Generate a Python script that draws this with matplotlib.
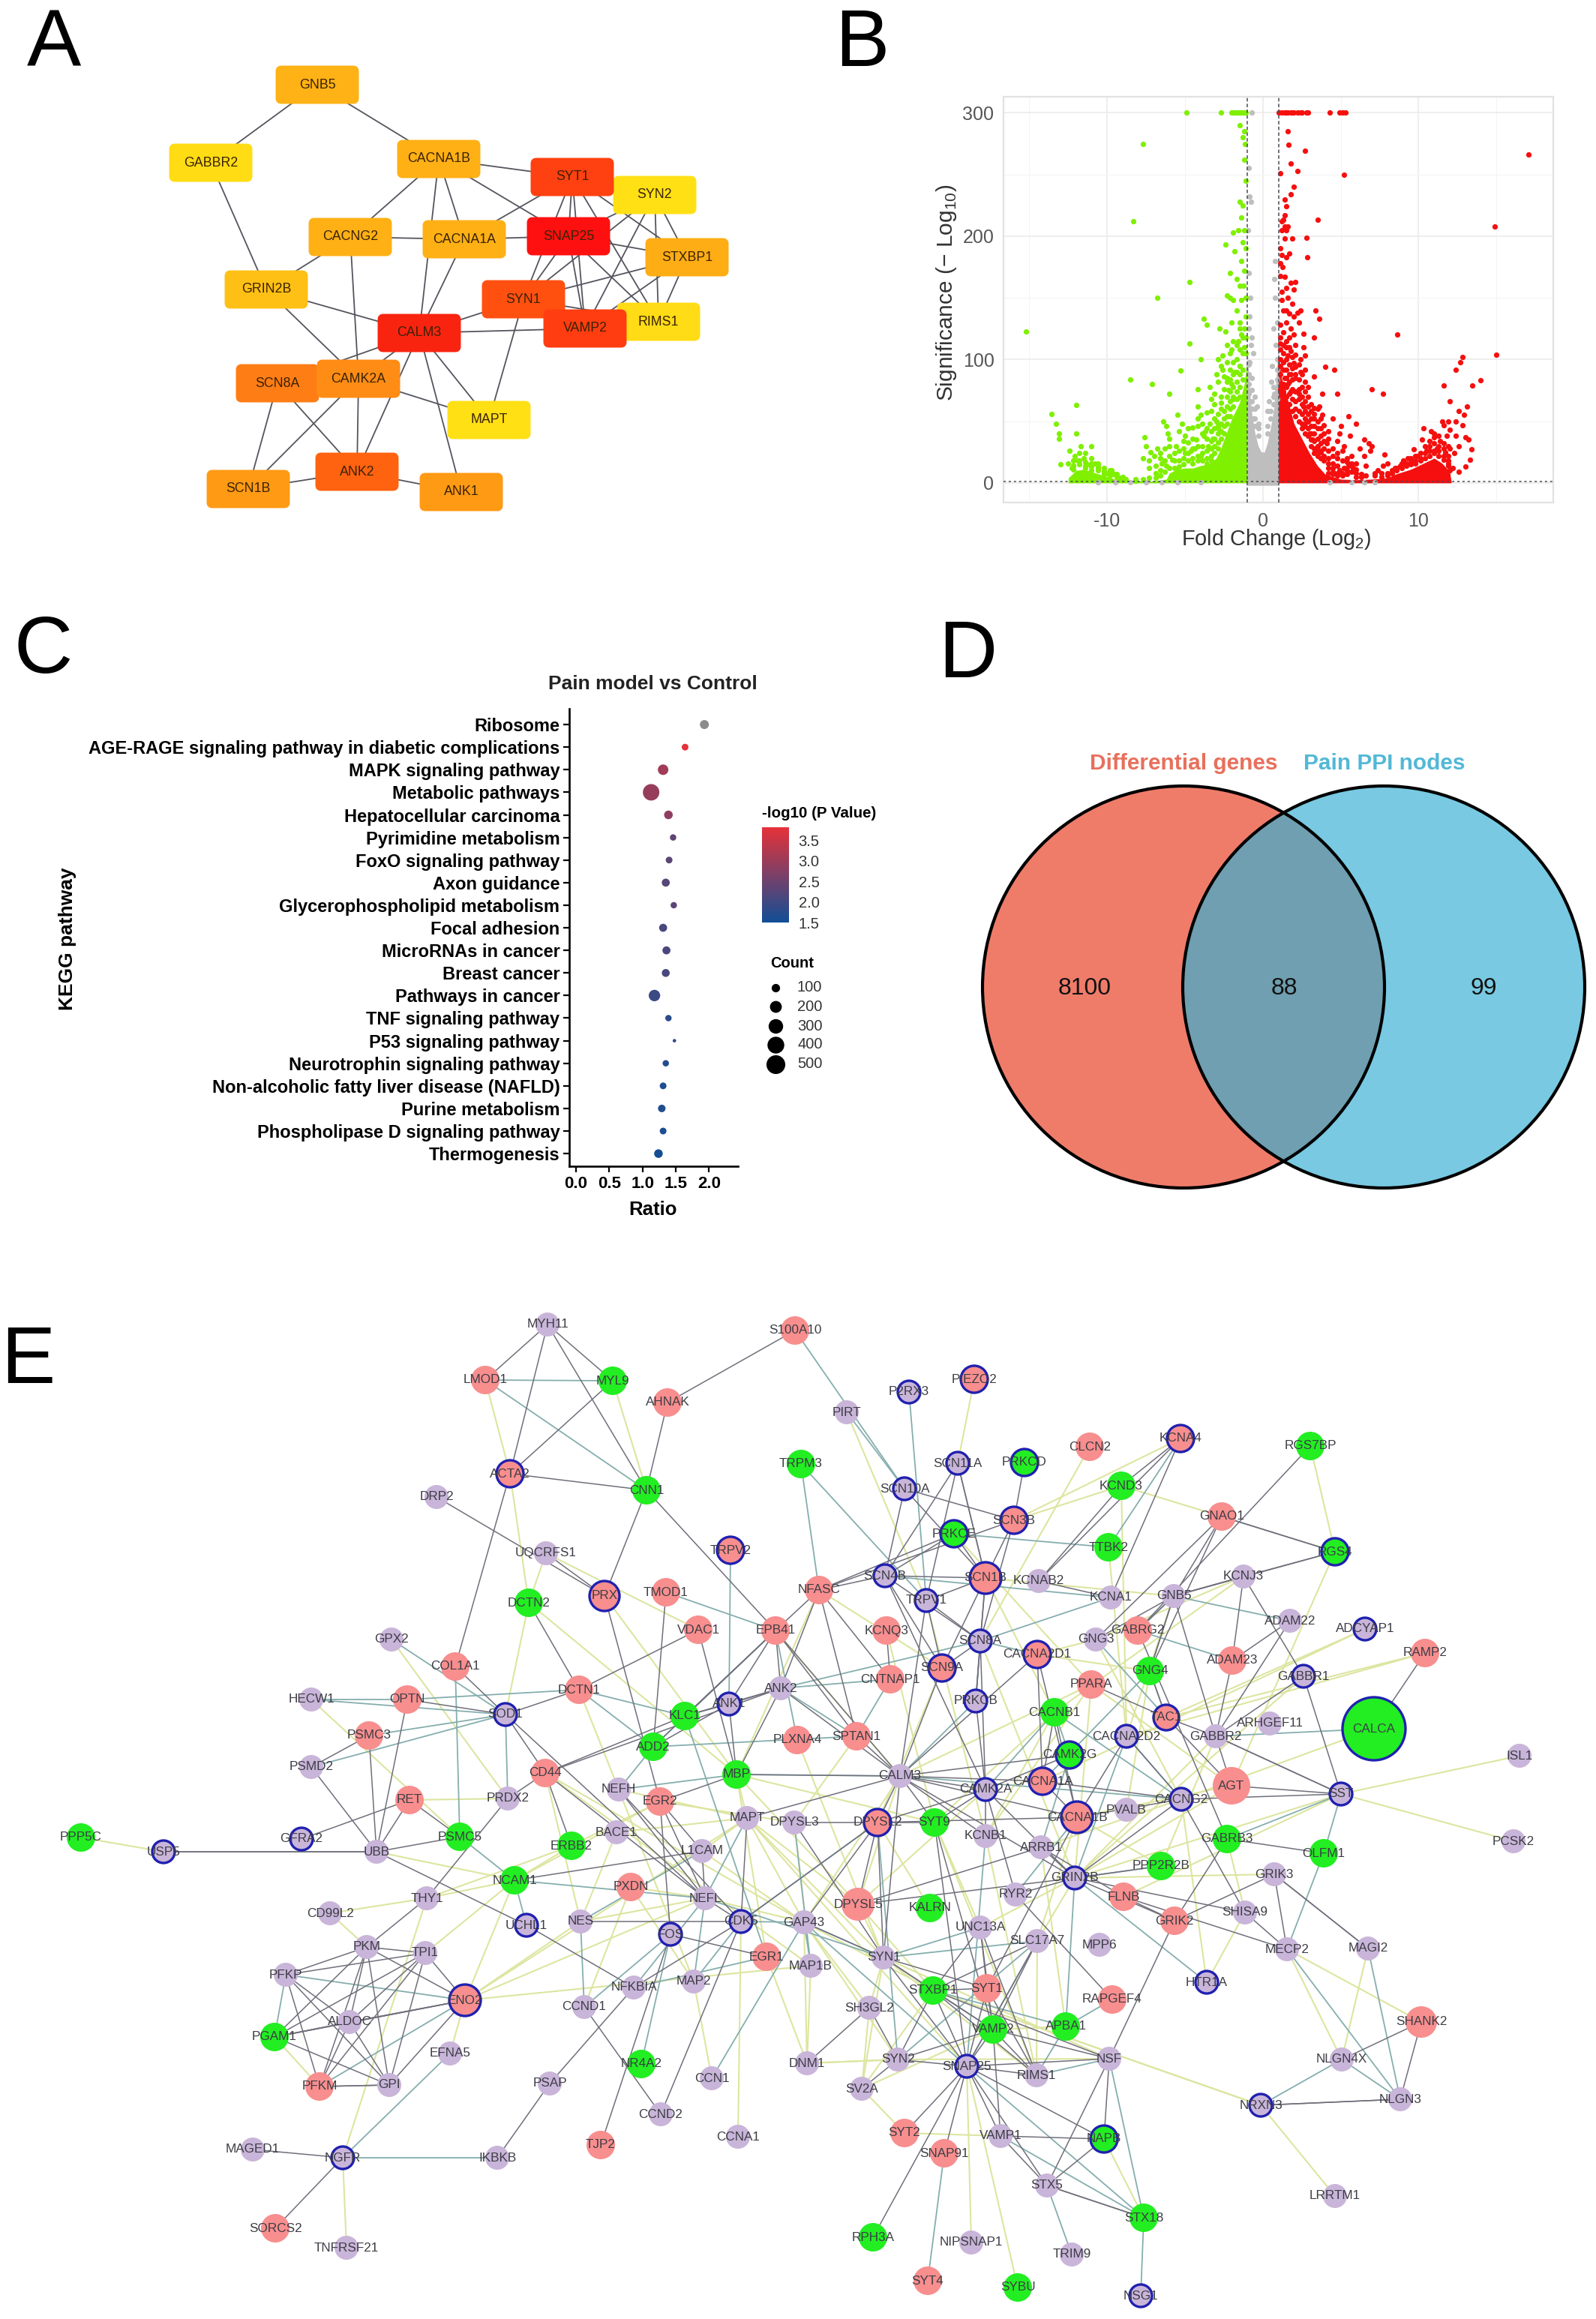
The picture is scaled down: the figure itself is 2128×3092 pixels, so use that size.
import matplotlib
matplotlib.use("Agg")
import matplotlib.pyplot as plt
import numpy as np
from matplotlib.collections import LineCollection
from matplotlib.colors import LinearSegmentedColormap
from matplotlib.patches import Circle, FancyBboxPatch

plt.rcParams['font.family'] = ['Liberation Sans', 'DejaVu Sans']
plt.rcParams['mathtext.fontset'] = 'custom'
plt.rcParams['mathtext.rm'] = 'Liberation Sans'
plt.rcParams['axes.unicode_minus'] = False

W, H = 2128, 3092

# ---- panel A: hub genes (layout, in pixels)
a_nodes = {
    "GNB5": (423, 113, "#FFB215"), "GABBR2": (281, 217, "#FFDC14"), "CACNA1B": (585, 212, "#FFB015"),
    "SYN2": (873, 260, "#FFE015"), "SYT1": (763, 236, "#FF4010"), "CACNG2": (467, 316, "#FFB015"),
    "CACNA1A": (619, 319, "#FFB015"), "SNAP25": (758, 315, "#FF1010"), "STXBP1": (916, 343, "#FFAD15"),
    "GRIN2B": (355, 386, "#FFC015"), "RIMS1": (878, 429, "#FFDC15"), "SYN1": (698, 399, "#FF5010"),
    "VAMP2": (780, 438, "#FF3D10"), "CALM3": (559, 444, "#F92410"), "SCN8A": (370, 511, "#FF7D15"),
    "CAMK2A": (478, 505, "#FF8C15"), "MAPT": (652, 560, "#FFE015"), "SCN1B": (331, 652, "#FF9A15"),
    "ANK2": (476, 629, "#FF6310"), "ANK1": (615, 656, "#FF9A15"),
}
a_edges = """GNB5-GABBR2 GNB5-CACNA1B GABBR2-GRIN2B CACNA1B-SYT1 CACNA1B-CACNG2 CACNA1B-CACNA1A CACNA1B-SNAP25
CACNA1B-CALM3 CACNG2-CACNA1A CACNG2-GRIN2B CACNG2-CAMK2A CACNA1A-SNAP25 CACNA1A-SYT1 CACNA1A-CALM3 GRIN2B-CALM3
GRIN2B-CAMK2A SYT1-SNAP25 SYT1-SYN1 SYT1-VAMP2 SYT1-RIMS1 SYT1-STXBP1 SYT1-SYN2 SNAP25-SYN2 SNAP25-STXBP1
SNAP25-SYN1 SNAP25-VAMP2 SNAP25-RIMS1 SYN2-STXBP1 SYN2-RIMS1 SYN2-VAMP2 SYN2-SYN1 STXBP1-SYN1 STXBP1-RIMS1
STXBP1-VAMP2 SYN1-VAMP2 SYN1-CALM3 SYN1-RIMS1 VAMP2-CALM3 CALM3-CAMK2A CALM3-SCN8A CALM3-MAPT CALM3-ANK2
CALM3-ANK1 CAMK2A-MAPT CAMK2A-ANK2 CAMK2A-SCN1B SYN1-MAPT SCN8A-SCN1B SCN8A-ANK2 SCN1B-ANK2 ANK2-ANK1""".split()

# ---- panel B: volcano
green_x = [-4.9, -2.7, -2.0, -1.9, -1.8, -1.7, -1.6, -1.5, -1.4, -1.3, -1.2, -1.1,
           -1.5, -1.2, -1.3, -1.15, -1.2, -7.7, -8.35, -1.1, -1.3, -1.5, -1.4, -1.2, -1.6, -1.9, -1.3, -2.4, -1.8,
           -1.1, -1.4, -1.2, -1.7, -2.1, -1.5, -1.25, -4.7, -6.8, -2.1, -2.3, -1.9, -1.4, -1.7, -3.8, -3.6, -2.8,
           -2.4, -2.0, -1.5, -1.2, -15.2, -4.7, -2.3, -2.0, -1.6, -1.2, -2.6, -4.0, -2.9, -1.7, -5.3, -3.0, -8.5,
           -7.1, -6.0, -3.4, -2.3, -1.8, -4.2, -3.1, -4.2, -2.6, -2.0, -3.3, -2.7, -1.5, -2.2, -1.9, -1.4,
           -12.0, -13.6, -13.3, -13.1, -12.0, -13.1, -11.7, -11.0, -12.4, -13.0, -12.1, -11.5, -12.5, -12.2, -11.9,
           -11.3, -10.8, -11.0, -10.6, -10.2, -10.0, -9.6, -9.2, -9.7, -11.4, -12.3, -8.8, -8.2,
           -7.6, -7.5, -7.2, -6.4, -6.2, -6.1, -5.5, -5.2, -5.0, -6.8, -6.0, -6.6, -7.0, -5.6, -5.0, -4.5, -4.0,
           -3.6, -3.4, -4.3, -3.8, -3.5, -3.0, -2.9, -4.6, -4.0, -6.2, -5.5, -6.5, -3.2, -4.8, -5.8, -4.4, -3.7]
green_y = [300, 300, 300, 300, 300, 300, 300, 300, 300, 300, 300, 300,
           290, 285, 280, 275, 262, 275, 212, 245, 225, 228, 215, 205, 205, 203, 195, 193, 188,
           190, 180, 172, 165, 170, 160, 160, 163, 150, 150, 152, 148, 148, 140, 133, 128, 125,
           123, 130, 130, 125, 123, 113, 112, 108, 115, 110, 103, 100, 100, 100, 91, 88, 84,
           80, 72, 78, 85, 90, 76, 72, 62, 92, 80, 68, 65, 95, 75, 70, 120,
           63, 56, 48, 40, 40, 36, 30, 30, 26, 15, 22, 20, 16, 14, 18,
           15, 16, 10, 12, 9, 8, 7, 4, 10, 24, 12, 3, 2,
           37, 30, 25, 50, 46, 40, 55, 48, 38, 28, 30, 20, 22, 30, 24, 45, 55,
           57, 48, 35, 38, 30, 50, 44, 26, 22, 14, 10, 16, 36, 33, 19, 28, 42]
# busier parts of the green cloud, column by column (x: [y, ...])
green_cols = {-1.1: [150, 135, 118, 105], -1.3: [118, 105, 92, 84], -1.5: [125, 108, 95, 88, 78, 70],
              -1.7: [112, 90, 82, 74, 68], -1.9: [115, 98, 88, 78, 68, 62], -2.1: [105, 92, 84, 74, 66, 60, 54],
              -2.3: [98, 82, 70, 62, 54, 48], -2.5: [86, 76, 58, 52, 46, 40], -2.7: [95, 70, 60, 48, 42, 36],
              -2.9: [82, 56, 46, 40, 33, 28], -3.1: [64, 52, 44, 36, 30, 24], -3.3: [58, 42, 34, 28, 22, 18],
              -3.6: [44, 36, 26, 20, 16], -3.9: [48, 40, 30, 24, 18], -4.2: [52, 46, 30, 22, 18], -4.5: [36, 28, 20, 16],
              -4.8: [44, 24, 18], -5.1: [34, 28, 20, 15], -5.4: [42, 26, 18, 13], -5.7: [24, 18, 12], -6.0: [36, 22, 12],
              -6.3: [28, 18, 9], -6.6: [24, 10, 6], -6.9: [14, 8, 4], -7.3: [18, 12, 4], -7.7: [20, 3], -8.2: [3, 2],
              -9.0: [5, 3], -9.4: [7, 5], -9.8: [10, 8, 6], -10.2: [12, 9, 7], -10.6: [16, 13, 10], -11.0: [20, 16, 13],
              -11.4: [17, 14, 12], -11.8: [24, 18, 15], -12.2: [18, 14, 11]}
red_x = [1.0, 1.2, 1.4, 1.5, 1.6, 1.8, 1.9, 2.0, 2.2, 2.4, 2.5, 2.8, 2.9, 4.3, 4.9, 5.1, 5.3,
         1.6, 1.65, 2.7, 1.8, 2.2, 5.2, 1.1, 2.0, 1.8, 1.4, 1.5, 1.4, 1.3, 1.4, 1.2, 1.6, 3.5, 1.5, 1.2, 2.8, 1.9,
         1.4, 1.1, 1.2, 2.85, 1.7, 1.5, 1.1, 1.25, 1.1, 1.4, 2.1, 1.8, 1.5, 2.0, 1.2, 1.6, 1.9, 1.2, 1.3, 1.5, 1.7,
         2.4, 2.2, 3.4, 2.0, 3.6, 2.3, 1.5, 1.1, 1.8, 1.3, 2.6, 3.3, 2.0, 1.5, 1.1, 2.6, 1.8, 2.7, 1.3, 1.6, 2.4,
         1.1, 2.0, 4.0, 4.6, 1.5, 2.4, 1.8, 3.3, 2.1, 1.4, 2.7, 1.6, 2.3, 3.8, 4.8, 1.8, 2.9, 7.0, 7.7, 3.3, 3.6,
         2.6, 4.5, 5.5, 3.8, 6.0, 5.0, 3.3, 4.2, 4.9, 5.6, 6.5, 6.8, 3.9, 4.1, 5.2, 6.2, 7.0, 6.9, 7.8, 6.5, 5.7,
         4.8, 6.0, 5.5, 5.8, 4.5, 4.9, 5.2, 7.4, 7.7, 8.0, 3.0, 3.2, 3.5, 3.7, 2.8,
         13.0, 13.2, 12.4, 11.8, 12.6, 13.4, 13.3, 12.6, 13.0, 12.0, 11.6, 11.9, 10.8, 10.3, 11.0, 10.2, 10.7, 11.4,
         11.2, 12.3, 12.0, 11.7, 9.7, 9.3, 9.0, 9.9, 8.8, 8.5, 10.5, 11.9, 12.2, 12.0, 12.9, 12.4, 12.8, 11.5, 13.1,
         17.07, 14.9, 15.0, 8.65, 12.8, 12.7, 12.4, 14.0, 13.45, 11.6, 12.0, 12.6]
red_y = [300, 300, 300, 300, 300, 300, 300, 300, 300, 300, 300, 300, 300, 300, 300, 300, 300,
         285, 274, 269, 259, 253, 250, 251, 240, 234, 230, 224, 217, 213, 208, 212, 208, 213, 205, 205, 199, 198,
         198, 190, 185, 183, 186, 183, 178, 175, 168, 167, 163, 162, 158, 157, 155, 150, 145, 148, 140, 140, 137,
         140, 138, 140, 135, 133, 130, 130, 128, 125, 122, 121, 118, 120, 115, 113, 110, 107, 103, 105, 103, 100,
         100, 97, 94, 92, 92, 90, 88, 86, 85, 85, 82, 80, 76, 72, 72, 74, 70, 76, 72, 61, 62,
         62, 52, 54, 55, 48, 46, 52, 42, 40, 38, 35, 32, 47, 32, 30, 28, 30, 26, 23, 22, 22,
         24, 16, 14, 12, 16, 10, 12, 10, 14, 16, 40, 35, 30, 25, 50,
         37, 35, 38, 38, 30, 27, 19, 9, 13, 43, 47, 50, 42, 44, 37, 35, 30, 34,
         28, 24, 28, 25, 27, 20, 18, 22, 14, 12, 26, 16, 12, 10, 55, 50, 47, 50, 62,
         266, 208, 104, 120, 102, 98, 92, 83, 79, 79, 66, 58]
red_cols = {1.1: [118, 108, 95, 88, 76], 1.3: [112, 98, 92, 80, 74, 66], 1.5: [110, 100, 85, 78, 70],
            1.7: [118, 110, 96, 88, 82, 72, 64], 1.9: [102, 93, 84, 76, 68, 58], 2.1: [112, 104, 94, 88, 74, 66, 60, 54],
            2.3: [96, 84, 72, 68, 58, 50], 2.5: [88, 78, 70, 64, 56, 48, 44], 2.7: [92, 74, 66, 58, 52, 46, 40],
            2.9: [78, 62, 56, 50, 44, 38], 3.1: [64, 58, 52, 46, 40, 35, 30], 3.3: [56, 46, 40, 34, 28, 24],
            3.5: [60, 50, 44, 36, 30, 26, 22], 3.7: [52, 44, 38, 32, 26, 20], 3.9: [40, 34, 28, 22, 18],
            4.2: [36, 26, 20, 16, 12, 8], 4.5: [28, 22, 12, 9, 7], 4.8: [34, 20, 14, 8, 6], 5.1: [26, 18, 8, 6],
            5.4: [20, 17, 10, 7], 5.7: [16, 14, 9], 6.0: [11, 8, 5], 6.3: [7, 5], 6.6: [14, 6], 7.2: [8, 6], 7.6: [8, 5],
            8.0: [8, 6], 8.3: [10, 8], 8.6: [12, 10], 8.9: [16, 12], 9.2: [16, 14], 9.5: [20, 17, 15], 9.8: [22, 18, 16],
            10.1: [24, 20, 18], 10.4: [30, 24, 20], 10.7: [34, 26, 22], 11.0: [40, 32, 26, 24], 11.3: [38, 30, 26, 22],
            11.6: [32, 28, 22, 19], 11.9: [30, 22, 18, 14]}
gray_x = [-0.7, -0.9, -0.85, -0.75, -0.95, -0.9, -0.8, -0.85, -0.9, -0.7, -0.75, -0.6, -0.85, -0.7, -0.5,
          0.8, 0.75, 0.8, 0.9, 0.7, 0.85, 0.6, 0.55, 0.75, 0.4, -0.4, 0.3, -0.3, -0.6,
          -10.6, -9.5, -8.5, -7.5, -6.5, -5.5, -4.0, 4.3, 5.7, 6.5, 7.2]
gray_y = [300, 255, 232, 228, 205, 170, 150, 135, 125, 118, 112, 105, 98, 85, 70,
          180, 165, 150, 130, 125, 112, 95, 82, 72, 66, 62, 58, 48, 52,
          0.5, 0.5, 0.5, 0.5, 0.5, 0.5, 0.5, 0.5, 0.5, 0.5, 0.5]
gray_cols = {-0.9: [96, 88, 80, 72], -0.7: [75, 66, 60], -0.5: [60, 52, 46], -0.3: [44, 38], 0.3: [46, 40],
             0.5: [58, 52], 0.7: [78, 70, 64], 0.9: [100, 92, 84, 76, 68]}
# tops of the solid (overplotted) regions of the cloud
green_env_x = [-12.5, -12, -11.5, -11, -10.5, -10, -9.5, -9, -8, -7, -6.2, -6, -5.5, -5, -4.5, -4, -3.5, -3, -2.7, -2.5, -2, -1.5, -1.2, -1]
green_env_y = [4, 10, 11, 9, 7, 5, 3, 2, 1.5, 1.5, 3, 8, 11, 12, 12, 14, 15, 20, 28, 35, 52, 65, 80, 100]
red_env_x = [1, 1.2, 1.5, 2, 2.5, 3, 3.5, 4, 5, 6, 7, 8, 8.5, 9, 9.5, 10, 10.5, 11, 11.5, 12, 12.1]
red_env_y = [105, 85, 72, 48, 36, 24, 14, 7, 3, 2.5, 3, 4, 7, 9, 11, 14, 17, 20, 16, 9, 1]
gray_env_x = [-1, -0.85, -0.7, -0.5, -0.3, -0.1, 0.1, 0.3, 0.5, 0.7, 0.85, 1]
gray_env_y = [110, 75, 55, 40, 30, 25, 25, 33, 45, 60, 85, 110]

# ---- panel C: KEGG dot plot
pathways = ["Ribosome", "AGE-RAGE signaling pathway in diabetic complications", "MAPK signaling pathway",
            "Metabolic pathways", "Hepatocellular carcinoma", "Pyrimidine metabolism", "FoxO signaling pathway",
            "Axon guidance", "Glycerophospholipid metabolism", "Focal adhesion", "MicroRNAs in cancer",
            "Breast cancer", "Pathways in cancer", "TNF signaling pathway", "P53 signaling pathway",
            "Neurotrophin signaling pathway", "Non-alcoholic fatty liver disease (NAFLD)", "Purine metabolism",
            "Phospholipase D signaling pathway", "Thermogenesis"]
ratio = [1.93, 1.64, 1.31, 1.13, 1.39, 1.46, 1.40, 1.35, 1.47, 1.31, 1.36, 1.35, 1.18, 1.39, 1.48, 1.35, 1.31, 1.29, 1.31, 1.24]
count = [135, 76, 185, 456, 125, 68, 76, 108, 68, 108, 108, 105, 220, 68, 20, 68, 76, 95, 76, 125]
log_p = [np.nan, 3.8, 3.05, 2.95, 2.85, 2.35, 2.3, 2.25, 2.3, 2.1, 2.1, 2.1, 1.95, 1.8, 1.8, 1.7, 1.65, 1.65, 1.6, 1.55]
legend_counts = [100, 200, 300, 400, 500]
cbar_ticks = [1.5, 2.0, 2.5, 3.0, 3.5]

# ---- panel D: venn
venn_left_only, venn_both, venn_right_only = 8100, 88, 99

# ---- panel E: PPI network (layout, in pixels)
pink_nodes = {
    "LMOD1": (647, 1840), "AHNAK": (890, 1870), "S100A10": (1060, 1774), "ACTA2": (680, 1965), "TRPV2": (974, 2067),
    "PRX": (806, 2128), "TMOD1": (888, 2123), "VDAC1": (931, 2173), "EPB41": (1034, 2174), "COL1A1": (607, 2222),
    "DCTN1": (772, 2253), "OPTN": (543, 2266), "PSMC3": (492, 2314), "CD44": (727, 2364), "PLXNA4": (1063, 2320),
    "RET": (546, 2400), "EGR2": (880, 2402), "PIEZO2": (1299, 1839), "CLCN2": (1453, 1929), "KCNA4": (1574, 1918),
    "SCN3B": (1352, 2027), "GNAO1": (1629, 2022), "SCN1B": (1314, 2104), "NFASC": (1092, 2120), "KCNQ3": (1182, 2174),
    "GABRG2": (1517, 2174), "CACNA2D1": (1383, 2206), "RAMP2": (1900, 2204), "ADAM23": (1643, 2214), "SCN9A": (1256, 2224),
    "CNTNAP1": (1187, 2239), "PPARA": (1455, 2246), "TAC1": (1555, 2290), "SPTAN1": (1142, 2315), "AGT": (1642, 2381),
    "CACNA1A": (1390, 2375), "CACNA1B": (1436, 2423), "DPYSL2": (1170, 2430), "FLNB": (1498, 2529), "DPYSL5": (1144, 2539),
    "GRIK2": (1566, 2561), "EGR1": (1022, 2609), "SYT1": (1316, 2651), "RAPGEF4": (1483, 2666), "SHANK2": (1895, 2696),
    "SYT2": (1206, 2844), "SNAP91": (1259, 2871), "SYT4": (1237, 3041), "PXDN": (841, 2516), "ENO2": (620, 2667),
    "PFKM": (426, 2782), "TJP2": (801, 2860), "SORCS2": (367, 2971),
}
green_nodes = {
    "MYL9": (817, 1841), "CNN1": (862, 1987), "DCTN2": (705, 2137), "KLC1": (913, 2288), "ADD2": (871, 2329),
    "MBP": (982, 2366), "TRPM3": (1068, 1952), "PRKCD": (1366, 1950), "KCND3": (1495, 1981), "RGS7BP": (1747, 1928),
    "PRKCE": (1272, 2045), "TTBK2": (1478, 2063), "RGS4": (1780, 2069), "GNG4": (1533, 2228), "CACNB1": (1406, 2283),
    "CALCA": (1832, 2305), "CAMK2G": (1426, 2340), "SYT9": (1246, 2430), "GABRB3": (1636, 2452), "OLFM1": (1765, 2471),
    "PPP2R2B": (1548, 2488), "KALRN": (1240, 2544), "STXBP1": (1244, 2654), "APBA1": (1421, 2702), "VAMP2": (1324, 2706),
    "NAPB": (1472, 2852), "STX18": (1525, 2957), "RPH3A": (1164, 2983), "SYBU": (1357, 3050), "PPP5C": (108, 2450),
    "PSMC5": (613, 2449), "ERBB2": (762, 2461), "NCAM1": (686, 2507), "PGAM1": (366, 2716), "NR4A2": (855, 2752),
}
purple_nodes = {
    "MYH11": (730, 1766), "DRP2": (582, 1996), "UQCRFS1": (728, 2071), "GPX2": (522, 2186), "HECW1": (415, 2266),
    "SOD1": (674, 2286), "ANK1": (972, 2272), "ANK2": (1041, 2251), "PSMD2": (415, 2356), "NEFH": (825, 2386),
    "PRDX2": (677, 2398), "P2RX3": (1212, 1856), "PIRT": (1129, 1883), "SCN11A": (1277, 1951), "SCN10A": (1206, 1985),
    "SCN4B": (1180, 2101), "KCNAB2": (1385, 2108), "TRPV1": (1235, 2134), "KCNA1": (1481, 2130), "GNB5": (1565, 2128),
    "KCNJ3": (1658, 2102), "ADAM22": (1720, 2161), "ADCYAP1": (1820, 2172), "GNG3": (1461, 2186), "SCN8A": (1307, 2188),
    "GABBR1": (1738, 2235), "PRKCB": (1301, 2268), "ARHGEF11": (1693, 2298), "CACNA2D2": (1502, 2315), "GABBR2": (1621, 2315),
    "ISL1": (2026, 2341), "CALM3": (1200, 2368), "CAMK2A": (1314, 2386), "SST": (1788, 2392), "CACNG2": (1575, 2399),
    "PVALB": (1502, 2413), "DPYSL3": (1059, 2430), "PCSK2": (2018, 2455), "KCNB1": (1314, 2448), "ARRB1": (1388, 2463),
    "GRIN2B": (1433, 2504), "GRIK3": (1699, 2499), "RYR2": (1354, 2526), "SHISA9": (1660, 2550), "GAP43": (1072, 2563),
    "UNC13A": (1307, 2570), "MAP1B": (1081, 2621), "SLC17A7": (1383, 2588), "MPP6": (1466, 2593), "MECP2": (1716, 2599),
    "MAGI2": (1824, 2598), "SYN1": (1178, 2610), "HTR1A": (1609, 2643), "SH3GL2": (1159, 2677), "DNM1": (1076, 2751),
    "SYN2": (1197, 2746), "NSF": (1479, 2745), "NLGN4X": (1789, 2746), "SNAP25": (1289, 2755), "RIMS1": (1382, 2767),
    "SV2A": (1149, 2785), "NLGN3": (1867, 2799), "NRXN3": (1681, 2807), "VAMP1": (1334, 2848), "STX5": (1396, 2914),
    "LRRTM1": (1780, 2928), "NIPSNAP1": (1295, 2990), "TRIM9": (1429, 3006), "NSG1": (1521, 3061), "USP5": (218, 2469),
    "GFRA2": (402, 2452), "UBB": (502, 2469), "BACE1": (822, 2443), "MAPT": (996, 2424), "L1CAM": (936, 2468),
    "THY1": (569, 2531), "NEFL": (940, 2531), "CD99L2": (440, 2551), "NES": (774, 2562), "UCHL1": (702, 2567),
    "CDK5": (988, 2562), "FOS": (894, 2579), "PKM": (489, 2596), "TPI1": (567, 2604), "PFKP": (381, 2633),
    "NFKBIA": (845, 2650), "MAP2": (925, 2642), "CCND1": (779, 2676), "ALDOC": (466, 2696), "EFNA5": (600, 2738),
    "CCN1": (949, 2771), "GPI": (519, 2780), "PSAP": (733, 2778), "CCND2": (881, 2819), "CCNA1": (984, 2849),
    "MAGED1": (337, 2866), "NGFR": (457, 2877), "IKBKB": (663, 2877), "TNFRSF21": (462, 2997),
}
ringed = """ACTA2 TRPV2 PRX PIEZO2 KCNA4 SCN3B SCN1B CACNA2D1 SCN9A TAC1 CACNA1A CACNA1B DPYSL2 ENO2
PRKCD PRKCE RGS4 CALCA CAMK2G NAPB SOD1 ANK1 P2RX3 SCN11A SCN10A SCN4B TRPV1 ADCYAP1 SCN8A GABBR1 PRKCB CACNA2D2
CAMK2A SST CACNG2 GRIN2B HTR1A SNAP25 NRXN3 NSG1 USP5 GFRA2 UCHL1 CDK5 FOS NGFR""".split()
node_diam = {"CALCA": 84, "AGT": 50, "CACNA1B": 42, "SCN1B": 42, "ENO2": 42, "PRX": 40, "DPYSL5": 44, "PIEZO2": 36,
             "DPYSL2": 36, "CACNA2D1": 36, "TAC1": 34, "SHANK2": 42}
dark_edges = """MYH11-LMOD1 MYH11-ACTA2 MYH11-CNN1 MYH11-MYL9 MYL9-ACTA2 ACTA2-CNN1 ACTA2-COL1A1 AHNAK-S100A10 AHNAK-CNN1 CNN1-PRX
CNN1-EPB41 DRP2-PRX UQCRFS1-PRX COL1A1-SOD1 DCTN2-DCTN1 DCTN1-VDAC1 PRX-EGR2 TMOD1-ADD2 VDAC1-MBP EPB41-KLC1 EPB41-ANK1
EPB41-ADD2 EPB41-ANK2 EPB41-SPTAN1 ANK1-ANK2 ANK1-KLC1 ANK1-ADD2 ANK2-CD44 KLC1-CD44 ANK2-KLC1 ANK2-MBP ANK1-MBP OPTN-SOD1
SOD1-DCTN1 SOD1-CD44 SOD1-NEFL PSMC3-PSMD2 PSMC3-UBB OPTN-UBB PSMD2-UBB RET-GFRA2 RET-UBB RET-PSMC5 PRDX2-CD44 PRDX2-THY1
EGR2-MBP EGR2-FOS EGR2-L1CAM CD44-ERBB2 USP5-UBB USP5-UBB UBB-PSMC5 UBB-UCHL1 THY1-PKM L1CAM-NCAM1 NEFH-NEFL NEFH-CDK5
UCHL1-NFKBIA NFKBIA-PSAP FOS-TJP2 FOS-EGR1 NFKBIA-CDK5 CCND1-CCND2 CDK5-CCND2 CDK5-MAPT CDK5-NEFL NEFL-L1CAM NEFL-CD44
NEFL-EGR2 NES-CDK5 PSAP-IKBKB NGFR-SORCS2 NGFR-MAGED1
PKM-PFKP PKM-TPI1 PKM-ALDOC PKM-PGAM1 PKM-GPI PKM-PFKM PKM-ENO2 TPI1-PFKP TPI1-ALDOC TPI1-PGAM1 TPI1-GPI TPI1-PFKM TPI1-ENO2
PFKP-ALDOC PFKP-GPI PFKP-PFKM ALDOC-PGAM1 ALDOC-GPI ALDOC-PFKM ALDOC-ENO2 PGAM1-ENO2 PGAM1-ENO2 PGAM1-GPI PFKM-GPI PFKM-GPI GPI-ENO2
CALM3-SPTAN1 CALM3-ANK2 CALM3-CAMK2G CALM3-CACNA1A CALM3-CAMK2A CALM3-CACNA1B CALM3-MAPT CALM3-DPYSL2 CALM3-SYT9 CALM3-SYN1
CALM3-GRIN2B CALM3-KCNB1 CALM3-TRPV1 CALM3-EPB41 CALM3-CACNA2D1 CALM3-MBP CAMK2A-CAMK2G CAMK2A-GRIN2B CAMK2A-DPYSL2 CAMK2A-KCNB1
CAMK2A-RYR2 CAMK2A-SYT9 CACNA1A-CACNB1 CACNA1A-CACNA2D1 CACNA1A-CACNA1B CACNA1A-CACNG2 CACNA1B-CACNB1 CACNA1B-CACNA2D1 CACNA1B-CACNA2D2
CACNA1B-CACNG2 CACNA1B-SYT1 CACNA1B-DPYSL2 SCN1B-SCN4B SCN1B-SCN3B SCN1B-SCN9A SCN1B-SCN8A SCN1B-PRKCB SCN1B-SCN11A SCN1B-TRPV1
SCN3B-NFASC SCN3B-SCN8A PRKCE-SCN4B PRKCE-SCN1B PRKCE-NFASC PRKCD-SCN3B SCN10A-SCN3B SCN10A-SCN4B SCN10A-SCN1B SCN11A-SCN4B
SCN11A-SCN1B SCN11A-TRPV1 NFASC-SCN4B NFASC-ANK2 NFASC-EPB41 NFASC-CNTNAP1 NFASC-SPTAN1 KCNQ3-CNTNAP1 TRPV1-SCN9A TRPV1-SCN8A SCN4B-SCN8A
SCN4B-SCN9A SCN4B-CAMK2A SCN8A-SCN9A SCN8A-CAMK2A SCN9A-CALM3 PRKCB-CAMK2A PRKCB-SCN8A KCNAB2-KCNA1 KCNAB2-KCND3 KCNA4-KCND3 KCNA4-KCNA1
KCNA4-KCNAB2 GNB5-KCNJ3 GNB5-KCNJ3 GNB5-RGS4 GNB5-GNG3 GNB5-GNG4 GNB5-GNG4 GNB5-GABRG2 GNAO1-RGS4 GNAO1-RGS4 GNAO1-GNG3 GNAO1-GNG4 GNAO1-GNB5
RGS7BP-GABRG2 KCNJ3-ADAM23 KCNJ3-GABBR1 KCNJ3-RGS4 ADAM22-ADAM23 ADAM22-GABBR2 ADAM23-GABBR2 GABBR1-GABBR2 GABBR1-SST GABBR2-SST GABBR2-SST
GABBR2-AGT GABBR2-GNB5 TAC1-GNG4 TAC1-GABBR2 TAC1-AGT TAC1-PPARA CALCA-RAMP2 SST-CACNG2 SST-AGT CACNG2-GRIN2B CACNG2-CACNA2D2
GABRB3-OLFM1 GABRB3-GABRG2 GABRB3-GRIK2 GRIK3-GRIK2 GRIK3-MAGI2 GRIK2-FLNB GRIK2-GRIN2B GRIK2-NSF MECP2-FLNB SHISA9-CACNG2
SHISA9-GRIN2B MECP2-SHISA9 GRIN2B-ARRB1 GRIN2B-RYR2 GRIN2B-DPYSL5 GRIN2B-PPP2R2B ARRB1-DPYSL5 RYR2-RAPGEF4 FLNB-ARRB1
SYN1-SNAP25 SYN1-STXBP1 SYN1-SYT1 SYN1-VAMP2 SYN1-GAP43 SLC17A7-STXBP1 SLC17A7-VAMP2 SLC17A7-SNAP25 UNC13A-VAMP2 UNC13A-SYT1 UNC13A-STXBP1
UNC13A-RIMS1 SYT1-VAMP2 SYT1-SNAP25 SYT1-STXBP1 STXBP1-VAMP2 STXBP1-SNAP25 STXBP1-RIMS1 STXBP1-SYN2 STXBP1-NSF VAMP2-SNAP25 VAMP2-RIMS1
VAMP2-NSF VAMP2-SYN2 VAMP2-VAMP1 SYN2-SNAP25 SNAP25-RIMS1 SNAP25-NSF SNAP25-VAMP1 SNAP25-SYT2 SNAP25-SNAP91 SNAP25-NAPB SNAP25-STX5
SNAP25-RPH3A SV2A-SYN2 DNM1-SH3GL2 SH3GL2-SYN2 NSF-NAPB NSF-STX5 NAPB-VAMP1 NAPB-STX5 VAMP1-STX5 STX5-STX18 STX5-STX18
DPYSL2-SYT9 DPYSL2-DPYSL3 DPYSL2-SYN1 DPYSL2-DPYSL5 DPYSL2-CDK5 DPYSL2-GAP43 SYT9-SNAP25 SYT9-VAMP2 DPYSL3-SYN1 NRXN3-NLGN3 NRXN3-NLGN3
SHANK2-NLGN4X SHANK2-NLGN3 MAGI2-GRIK3 GRIK3-MECP2 RIMS1-SYT1""".split()
teal_edges = """LMOD1-MYL9 LMOD1-CNN1 GPX2-SOD1 HECW1-OPTN HECW1-SOD1 OPTN-DCTN1 PSMC3-SOD1 PSMD2-SOD1 DCTN1-KLC1 DCTN1-ADD2
TMOD1-EPB41 COL1A1-PSMC5 SOD1-PRDX2 TRPV2-ANK1 TRPM3-TRPV1 S100A10-SCN10A PIRT-SCN10A P2RX3-TRPV1 TRPM3-NFASC
ANK2-SPTAN1 ANK2-CNTNAP1 ANK2-SCN8A KLC1-EGR1 ADD2-EPB41 ADD2-SPTAN1 MBP-CALM3 NEFH-ADD2 NEFH-MBP EPB41-PLXNA4
PFKP-PGAM1 PFKP-ENO2 PFKM-ENO2 EFNA5-NGFR IKBKB-NGFR PSMC5-NCAM1 NCAM1-NEFL NES-L1CAM UCHL1-NCAM1 CCND1-NES FOS-NR4A2 MAP2-CDK5
CCND1-FOS NFKBIA-NEFL CCN1-GAP43 CDK5-GAP43 GAP43-MAP1B GAP43-SYN1 MAPT-NEFL NFKBIA-EGR1 SCN8A-CACNA2D1 GNB5-ADAM22 GABRG2-ADAM23 GNG3-TAC1
CALCA-GABBR2 PRKCE-TTBK2 SCN8A-KCNA1 KCNA1-SCN4B TTBK2-KCNA4 GABRG2-GNB5 SST-OLFM1 OLFM1-MECP2 GNG4-CACNA1A CACNB1-CACNG2
CACNA2D2-CACNG2 CACNA2D2-GRIN2B SYN1-SLC17A7 SYN1-UNC13A GRIN2B-HTR1A GRIN2B-APBA1 APBA1-RAPGEF4 STXBP1-APBA1 RIMS1-NSF RIMS1-APBA1
STX18-NSF STX18-NSG1 STX18-VAMP1 SNAP25-STX18 STX5-TRIM9 SNAP91-SYT4 NLGN4X-NRXN3 NLGN4X-NLGN3 MAGI2-NLGN3 MECP2-NLGN3 DPYSL2-SYN2 GABRB3-SST
CDK5-DPYSL2 NEFL-SYN1 GAP43-SNAP25 SCN8A-PRKCB CAMK2A-CACNB1 CAMK2G-CACNB1 PPP2R2B-GRIN2B RYR2-CACNA1B SYN2-SLC17A7 SNAP25-SLC17A7
SPTAN1-CNTNAP1 PRKCB-CALM3 CALM3-CACNG2 CAMK2G-ARRB1 GNG4-TAC1 DPYSL3-MAP1B NEFL-MAP2 KCNB1-SNAP25""".split()
yellow_edges = """LMOD1-ACTA2 ACTA2-DCTN2 MYL9-CNN1 UQCRFS1-DCTN2 UQCRFS1-VDAC1 DCTN2-SOD1 DCTN2-MBP GPX2-PRDX2 HECW1-PSMC5 PRX-MBP
DCTN1-NEFH PIRT-TRPV1 PIEZO2-SCN11A SCN3B-KCND3 CLCN2-SCN8A KCNA4-SCN3B RGS7BP-RGS4 KCND3-GNAO1 PRKCE-PPARA NFASC-SCN9A EPB41-CALM3
CACNA2D1-GNG4 ADCYAP1-CACNA1A RAMP2-CACNA2D2 ISL1-SST CALCA-CACNG2 SST-PCSK2 RGS4-AGT KCNJ3-CACNB1 GNB5-CACNA2D2 TTBK2-CACNA2D2 PPARA-CALM3
PLXNA4-SYN1 MBP-EGR1 THY1-CD99L2 THY1-NCAM1 THY1-ERBB2 THY1-NGFR ENO2-EFNA5 ENO2-NEFL ENO2-MAP1B ENO2-MAPT PGAM1-PFKM TPI1-NCAM1 UBB-NCAM1 CD99L2-PKM
TNFRSF21-NGFR PPP5C-USP5 CCNA1-CDK5 MAP2-CCN1 NES-NEFL PXDN-CCND1 PXDN-MAP2 ERBB2-EGR2 RET-PRDX2 MAPT-SYN1 SYN1-RIMS1 SYN1-NSF GAP43-SH3GL2 GAP43-DNM1
MAPT-SNAP25 DPYSL5-SYN1 SYT9-RIMS1 SYT9-UNC13A SH3GL2-SV2A DNM1-SYN2 DNM1-SYN2 SV2A-VAMP2 SV2A-STXBP1 SYN2-NSF SYT2-SV2A SYT2-VAMP1 SNAP25-NIPSNAP1 SNAP25-SYBU
NAPB-STX18 NRXN3-LRRTM1 NRXN3-STXBP1 NRXN3-STXBP1 MECP2-SHANK2 MECP2-NLGN4X MAGI2-NLGN4X GRIK3-GRIN2B CACNG2-HTR1A HTR1A-SHISA9 PPP2R2B-CACNA1B
DPYSL5-CAMK2A KCNB1-RIMS1 SLC17A7-RIMS1 DPYSL2-KALRN ARRB1-CACNG2 GABRB3-SHISA9
MAPT-DPYSL5 MAPT-GAP43 DPYSL3-MAP1B MBP-SYT9 MBP-DPYSL5 EGR2-DPYSL3 CD44-GAP43 NEFH-MAP2 NEFL-GAP43 CALM3-GAP43 CALM3-DPYSL5 KCNQ3-SYT9 NFASC-MBP
SPTAN1-DPYSL3 SCN9A-DPYSL2 TRPV1-KCNB1 SCN8A-GRIN2B CACNB1-SYT9 PPARA-GRIN2B PPARA-KCNB1 ARRB1-APBA1 GNG4-PVALB GNG3-CACNG2 GABBR2-GRIN2B GABBR1-GRIN2B
GABBR2-PPP2R2B RAMP2-TAC1 ADCYAP1-TAC1 AGT-CACNA1B AGT-GRIN2B AGT-PPARA SST-GRIN2B SST-FLNB GRIN2B-SLC17A7 GRIN2B-UNC13A CACNA1B-SLC17A7 DPYSL5-STXBP1
GAP43-STXBP1 SYN1-SH3GL2 SYN1-SV2A MAP1B-DNM1 EGR1-DNM1 SYN2-GAP43 VAMP2-APBA1 CACNB1-KCNB1 KCND3-CACNA2D2 GNG3-CACNA2D1 SCN1B-CACNB1 GNB5-SCN1B
KCNJ3-GNG3 ERBB2-NCAM1 L1CAM-MAPT NCAM1-ENO2 NCAM1-EGR2 NES-ENO2 PXDN-NEFL BACE1-NES BACE1-MAPT L1CAM-GAP43 MBP-MAPT NEFH-MAPT CD44-MAP1B CD44-NES""".split()


def box(fig, left, top, right, bottom):
    return fig.add_axes([left / W, 1 - bottom / H, (right - left) / W, (bottom - top) / H])


def flatten(cols):
    xs = [x for x, ys in cols.items() for _ in ys]
    ys_all = [y for ys in cols.values() for y in ys]
    return xs, ys_all


fig = plt.figure(figsize=(W / 100, H / 100), dpi=100, facecolor="white")

# canvas in pixel coordinates for the two networks, the venn and all free text
canvas = fig.add_axes([0, 0, 1, 1])
canvas.set_xlim(0, W)
canvas.set_ylim(H, 0)
canvas.axis("off")

for letter, x, y in [("A", 36, 88), ("B", 1113, 88), ("C", 19, 897), ("D", 1251, 903), ("E", 1, 1844)]:
    canvas.text(x, y, letter, fontsize=78, color="black", va="baseline", ha="left")

# panel A
segs = [[a_nodes[p][:2], a_nodes[q][:2]] for p, q in (e.split("-") for e in a_edges)]
canvas.add_collection(LineCollection(segs, colors="#55555f", linewidths=1.3, zorder=1))
for z, (name, (x, y, col)) in enumerate(a_nodes.items()):
    canvas.add_patch(FancyBboxPatch((x - 52, y - 22), 104, 44, boxstyle="round,pad=0,rounding_size=4", mutation_aspect=1,
                                    facecolor=col, edgecolor=col, linewidth=5, zorder=2 + z * 0.01))
    canvas.text(x, y, name, fontsize=12.8, color="#3a2205", ha="center", va="center", zorder=3)

# panel B
vol = box(fig, 1338, 129, 2071, 670)
vol.set_xlim(-16.66, 18.65)
vol.set_ylim(-15.9, 313)
vol.fill_between(gray_env_x, -2, gray_env_y, color="#BEBEBE", lw=0, zorder=2)
vol.fill_between(green_env_x, 0, green_env_y, color="#7FF000", lw=0, zorder=2)
vol.fill_between(red_env_x, 0, red_env_y, color="#F50F0F", lw=0, zorder=2)
for xs, ys, cols, col in [(gray_x, gray_y, gray_cols, "#BEBEBE"), (green_x, green_y, green_cols, "#7FF000"),
                          (red_x, red_y, red_cols, "#F50F0F")]:
    cx, cy = flatten(cols)
    vol.scatter(list(xs) + cx, list(ys) + cy, s=27, color=col, lw=0, zorder=3)
vol.set_xticks([-10, 0, 10])
vol.set_yticks([0, 100, 200, 300])
vol.set_xticks([-15, -5, 5, 15], minor=True)
vol.set_yticks([50, 150, 250], minor=True)
vol.grid(True, which="major", color="#EBEBEB", lw=1.2, zorder=0)
vol.grid(True, which="minor", color="#F5F5F5", lw=0.8, zorder=0)
vol.set_axisbelow(True)
vol.tick_params(which="both", length=0, labelsize=18, labelcolor="#555555", pad=9)
for s in vol.spines.values():
    s.set_color("#E2E2E2")
    s.set_linewidth(1.6)
for xv in (-1, 1):
    vol.axvline(xv, color="#4a4a55", lw=1.1, ls=(0, (3, 2)), zorder=4)
vol.axhline(1.3, color="#4a4a55", lw=1.1, ls=(0, (2, 2.5)), zorder=4)
canvas.text(1702, 719, r"Fold Change (Log$_2$)", fontsize=20.8, color="#333333", ha="center", va="center")
canvas.text(1262, 390, r"Significance ($-$ Log$_{10}$)", fontsize=21.5, color="#333333", ha="center", va="center", rotation=90)

# panel C
cmap = LinearSegmentedColormap.from_list("pval", ["#124F96", "#E6323A"])
dot = box(fig, 759, 945, 984, 1555)
yy = np.arange(len(pathways))
dot_sizes = [(1.03 * np.sqrt(c) * 0.72) ** 2 for c in count]
dot_cols = ["#8C8C8C" if np.isnan(v) else cmap((v - 1.5) / 2.31) for v in log_p]
dot.scatter(ratio, yy, s=dot_sizes, c=dot_cols, lw=0, zorder=3)
dot.set_xlim(-0.10, 2.435)
dot.set_ylim(len(pathways) - 1 + 0.56, -0.70)
dot.set_yticks(yy, pathways)
dot.set_xticks([0, 0.5, 1, 1.5, 2], ["0.0", "0.5", "1.0", "1.5", "2.0"])
for s in ("top", "right"):
    dot.spines[s].set_visible(False)
for s in ("left", "bottom"):
    dot.spines[s].set_linewidth(1.9)
dot.tick_params(length=6, width=1.6, pad=3)
dot.tick_params(axis="y", labelsize=17)
dot.tick_params(axis="x", labelsize=16)
for lab in dot.get_xticklabels() + dot.get_yticklabels():
    lab.set_fontweight("bold")
canvas.text(870, 912, "Pain model vs Control", fontsize=19, fontweight="bold", ha="center", va="center", color="#222222")
canvas.text(870, 1613, "Ratio", fontsize=18.5, fontweight="bold", ha="center", va="center")
canvas.text(90, 1252, "KEGG pathway", fontsize=19, fontweight="bold", ha="center", va="center", rotation=90)

canvas.text(1016, 1084, "-log10 (P Value)", fontsize=14.8, fontweight="bold", ha="left", va="center")
cbar = box(fig, 1016, 1103, 1052, 1230)
cbar.imshow(np.linspace(1, 0, 128).reshape(-1, 1), cmap=cmap, aspect="auto", extent=[0, 1, 1.5, 3.81])
cbar.set_xticks([])
cbar.yaxis.tick_right()
cbar.set_yticks(cbar_ticks, [str(v) for v in cbar_ticks])
cbar.tick_params(length=0, labelsize=14.5, labelcolor="#333333", pad=9)
for s in cbar.spines.values():
    s.set_visible(False)
canvas.text(1027, 1284, "Count", fontsize=14.5, fontweight="bold", ha="left", va="center")
for c, y in zip(legend_counts, [1317, 1342, 1368, 1393, 1419]):
    canvas.scatter([1034], [y], s=(1.12 * np.sqrt(c) * 0.72) ** 2, color="black", lw=0, zorder=3)
    canvas.text(1063, y, str(c), fontsize=14.5, color="#333333", ha="left", va="center")

# panel D
left_c = Circle((1578, 1316), 268, facecolor="#EF7C69", edgecolor="none", zorder=2)
right_c = Circle((1845, 1316), 268, facecolor="#78C9E1", edgecolor="none", zorder=2)
canvas.add_patch(left_c)
canvas.add_patch(right_c)
both = Circle((1578, 1316), 268, facecolor="#6F9FB0", edgecolor="none", zorder=3)
canvas.add_patch(both)
both.set_clip_path(right_c)
for cx in (1578, 1845):
    canvas.add_patch(Circle((cx, 1316), 268, facecolor="none", edgecolor="black", linewidth=3, zorder=4))
canvas.text(1578, 1018, "Differential genes", fontsize=21.5, fontweight="bold", color="#E8705C", ha="center", va="center")
canvas.text(1846, 1018, "Pain PPI nodes", fontsize=21.5, fontweight="bold", color="#52B8D6", ha="center", va="center")
for val, x in [(venn_left_only, 1446), (venn_both, 1712), (venn_right_only, 1978)]:
    canvas.text(x, 1318, str(val), fontsize=23, color="#111111", ha="center", va="center", zorder=5)

# panel E
pos = {**pink_nodes, **green_nodes, **purple_nodes}
for edge_list, col, lw in [(yellow_edges, "#DDE5A0", 1.5), (teal_edges, "#86AEAE", 1.3), (dark_edges, "#70707C", 1.1)]:
    segs = []
    for e in edge_list:
        p, q = e.split("-")
        if p in pos and q in pos:
            segs.append([pos[p], pos[q]])
    canvas.add_collection(LineCollection(segs, colors=col, linewidths=lw, zorder=5))

for nodes, col, d0 in [(pink_nodes, "#F88E8E", 38), (green_nodes, "#22EE22", 38), (purple_nodes, "#C9B5D9", 32)]:
    for name, (x, y) in nodes.items():
        d = node_diam.get(name, d0)
        ring = name in ringed
        if ring and name not in node_diam:
            d = max(d - 2, 30)
        canvas.add_patch(Circle((x, y), d / 2, facecolor=col, edgecolor="#2020B0" if ring else "none",
                                linewidth=2.4 if ring else 0, zorder=6))
        canvas.text(x, y, name, fontsize=12.3, color="#3c3c44", ha="center", va="center", zorder=7)

fig.savefig("out.png", dpi=100)
